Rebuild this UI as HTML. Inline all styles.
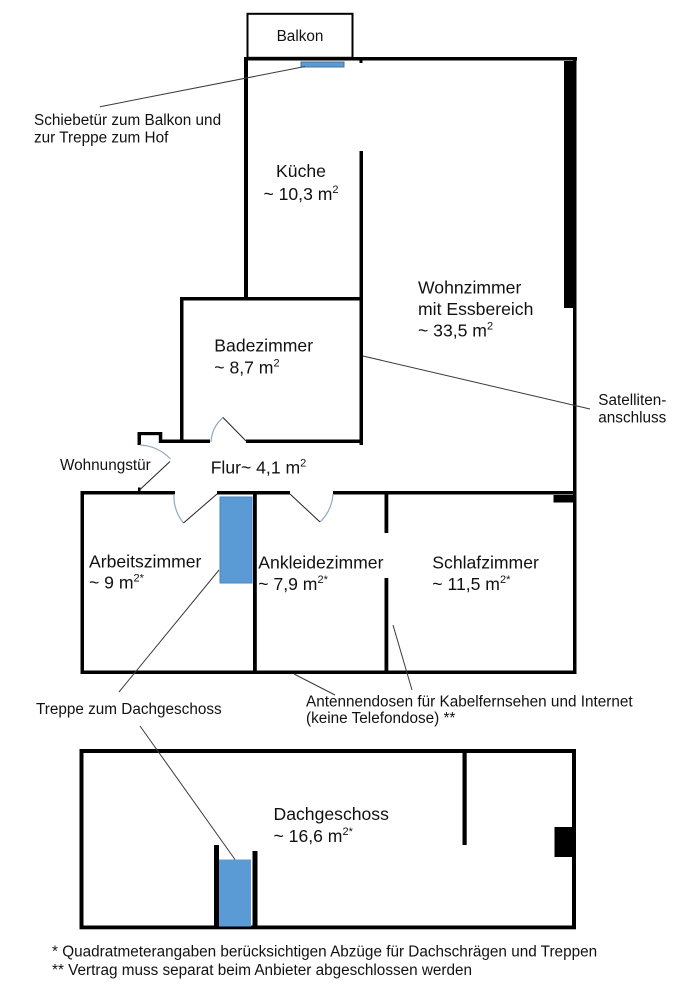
<!DOCTYPE html>
<html>
<head>
<meta charset="utf-8">
<style>
html,body{margin:0;padding:0;background:#fff;}
svg{display:block;}
text{font-family:"Liberation Sans",Arial,sans-serif;fill:#111;}
.r{font-size:17.6px;}
.s{font-size:15.3px;}
.f{font-size:15.3px;}
.w{fill:#000;}
.ld{stroke:#3a3a3a;stroke-width:1;fill:none;}
.arc{stroke:#8fa9c0;stroke-width:1.2;fill:none;}
.leaf{stroke:#222;stroke-width:1;fill:none;}
</style>
</head>
<body>
<svg width="692" height="1000" viewBox="0 0 692 1000" xmlns="http://www.w3.org/2000/svg">
<!-- Balkon -->
<rect x="247.5" y="13.8" width="105" height="44" fill="none" stroke="#000" stroke-width="2"/>
<text class="s" x="300" y="41" text-anchor="middle">Balkon</text>

<!-- Upper walls -->
<rect class="w" x="244" y="57" width="333" height="3.5"/>
<rect class="w" x="244" y="57" width="4" height="243"/>
<rect class="w" x="573" y="57" width="3.5" height="617"/>
<rect class="w" x="564" y="61" width="9" height="247"/>
<rect class="w" x="359.5" y="151" width="3.5" height="294"/>
<rect class="w" x="359.5" y="60" width="3" height="3"/>
<rect class="w" x="180" y="297" width="183" height="3.5"/>
<rect class="w" x="180" y="297" width="3.5" height="146"/>
<rect class="w" x="159" y="439.5" width="51" height="3.5"/>
<rect class="w" x="246" y="439.5" width="117" height="3.5"/>
<!-- notch -->
<rect class="w" x="137.5" y="432" width="3.5" height="13"/>
<rect class="w" x="137.5" y="432" width="24.5" height="3.2"/>
<rect class="w" x="158.8" y="432" width="3.5" height="11"/>

<!-- sliding door -->
<rect x="301" y="62" width="43" height="5" fill="#5b9bd5" stroke="#41719c" stroke-width="1"/>

<!-- Lower walls -->
<rect class="w" x="80.5" y="491" width="94.5" height="3.5"/>
<rect class="w" x="217" y="491" width="73" height="3.5"/>
<rect class="w" x="333" y="491" width="243.5" height="3.5"/>
<rect class="w" x="80.5" y="491" width="3.5" height="183"/>
<rect class="w" x="80.5" y="670.5" width="496" height="3.5"/>
<rect class="w" x="253" y="491" width="3.8" height="183"/>
<rect class="w" x="384.5" y="491" width="3.8" height="42"/>
<rect class="w" x="384.5" y="578" width="3.8" height="96"/>
<rect class="w" x="553.5" y="495" width="20" height="7.5"/>
<rect class="w" x="138" y="487.5" width="2.5" height="4"/>

<!-- stair upper -->
<rect x="220" y="497" width="32" height="86" fill="#5b9bd5" stroke="#4a86c0" stroke-width="1"/>

<!-- doors -->
<path class="arc" d="M140,445 A45,45 0 0 1 170.5,459"/>
<line class="leaf" x1="139.5" y1="490" x2="170" y2="461.5"/>
<path class="arc" d="M211,442 A35,35 0 0 1 223,417.5"/>
<line class="leaf" x1="246" y1="441" x2="223" y2="417.5"/>
<path class="arc" d="M174,494 A43,43 0 0 0 183.5,523"/>
<line class="leaf" x1="217" y1="494" x2="183.5" y2="523"/>
<path class="arc" d="M333,494 A43,43 0 0 1 320,522"/>
<line class="leaf" x1="290" y1="494" x2="320" y2="522"/>

<!-- Dachgeschoss -->
<rect class="w" x="79.5" y="749" width="496.5" height="4"/>
<rect class="w" x="79.5" y="749" width="4" height="180"/>
<rect class="w" x="572" y="749" width="4" height="180"/>
<rect class="w" x="79.5" y="925.5" width="496.5" height="3.8"/>
<rect class="w" x="462.5" y="753" width="4.2" height="92"/>
<rect class="w" x="554.5" y="827" width="18" height="30"/>
<rect x="219" y="859.5" width="32" height="67" fill="#5b9bd5"/>
<rect class="w" x="214" y="845" width="5" height="82"/>
<rect class="w" x="252.5" y="851" width="5" height="76"/>

<!-- leader lines -->
<line class="ld" x1="100" y1="106.7" x2="305" y2="66.5"/>
<line class="ld" x1="363" y1="356" x2="590" y2="409"/>
<line class="ld" x1="219" y1="570" x2="119" y2="692"/>
<line class="ld" x1="140" y1="726" x2="235" y2="859.5"/>
<line class="ld" x1="294" y1="674" x2="335" y2="695"/>
<line class="ld" x1="393" y1="625" x2="412" y2="690"/>

<!-- labels -->
<text class="s" x="34" y="125">Schiebetür zum Balkon und</text>
<text class="s" x="34" y="142.5">zur Treppe zum Hof</text>

<text class="r" x="301" y="177" text-anchor="middle">Küche</text>
<text class="r" x="301" y="200" text-anchor="middle">~ 10,3 m<tspan font-size="11" dy="-7">2</tspan></text>

<text class="r" x="418" y="293.3">Wohnzimmer</text>
<text class="r" x="418" y="315">mit Essbereich</text>
<text class="r" x="418" y="336.5">~ 33,5 m<tspan font-size="11" dy="-7">2</tspan></text>

<text class="r" x="214.3" y="351.7">Badezimmer</text>
<text class="r" x="214.3" y="373.3">~ 8,7 m<tspan font-size="11" dy="-7">2</tspan></text>

<text class="s" x="598.3" y="405">Satelliten-</text>
<text class="s" x="598.3" y="422.7">anschluss</text>

<text class="s" x="60" y="470">Wohnungstür</text>
<text class="r" x="210.7" y="473.3">Flur~ 4,1 m<tspan font-size="11" dy="-7">2</tspan></text>

<text class="r" x="89" y="567.3">Arbeitszimmer</text>
<text class="r" x="89" y="588.5">~ 9 m<tspan font-size="11" dy="-7">2*</tspan></text>

<text class="r" x="258.3" y="568.3">Ankleidezimmer</text>
<text class="r" x="258.3" y="590">~ 7,9 m<tspan font-size="11" dy="-7">2*</tspan></text>

<text class="r" x="432.3" y="568.3">Schlafzimmer</text>
<text class="r" x="432.3" y="590">~ 11,5 m<tspan font-size="11" dy="-7">2*</tspan></text>

<text class="s" x="306" y="706.7">Antennendosen für Kabelfernsehen und Internet</text>
<text class="s" x="306" y="723">(keine Telefondose) **</text>

<text class="s" x="36" y="714">Treppe zum Dachgeschoss</text>

<text class="r" x="273.5" y="820">Dachgeschoss</text>
<text class="r" x="273.5" y="842">~ 16,6 m<tspan font-size="11" dy="-7">2*</tspan></text>

<text class="f" x="52" y="956.7">* Quadratmeterangaben berücksichtigen Abzüge für Dachschrägen und Treppen</text>
<text class="f" x="52" y="975">** Vertrag muss separat beim Anbieter abgeschlossen werden</text>
</svg>
</body>
</html>
